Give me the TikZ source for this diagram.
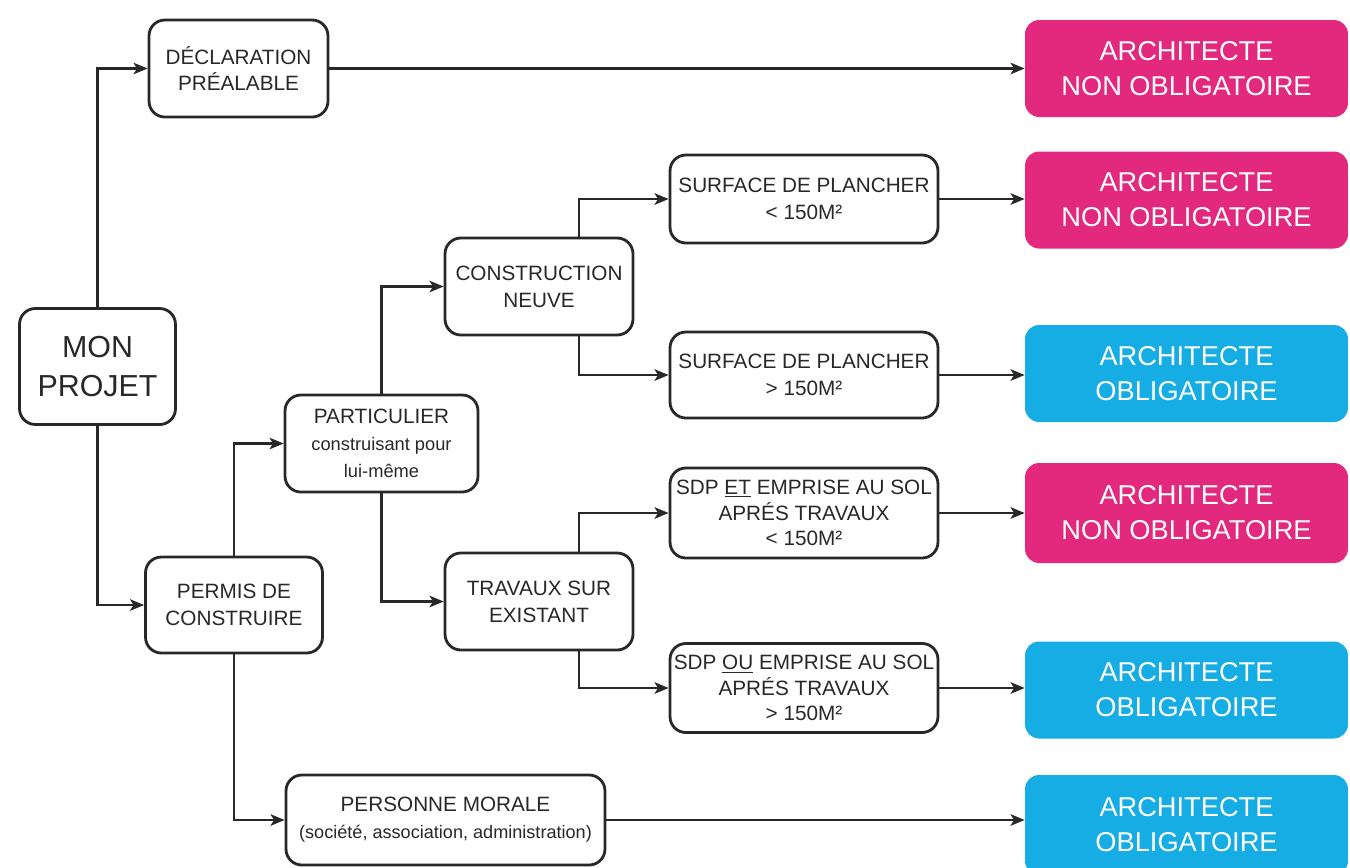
\documentclass[tikz,border=0pt]{standalone}
\usepackage{fontspec}
\setmainfont{Liberation Sans}
\usetikzlibrary{positioning}
\usetikzlibrary{arrows.meta}

\definecolor{rose}{RGB}{226,41,126}
\definecolor{bleu}{RGB}{22,172,228}
\definecolor{trait}{RGB}{40,40,40}

\tikzset{
  boite/.style={draw=trait, ultra thick, rounded corners=9pt, fill=white, align=center,
    inner sep=0pt, text=trait, font=\fontsize{11.8}{15.3}\selectfont},
  archi/.style={rounded corners=8pt, align=center, inner sep=0pt, text=white,
    minimum width=6.46cm, minimum height=1.94cm, font=\fontsize{15.5}{19.8}\selectfont},
  fleche/.style={-{Stealth[length=8pt,width=6.5pt,inset=2pt]}, draw=trait, ultra thick},
}

\begin{document}
\begin{tikzpicture}[x=0.02cm, y=-0.02cm]
\useasboundingbox (0,0) rectangle (1350,867);

\node[boite, minimum width=3.12cm, minimum height=2.32cm, font=\fontsize{17.3}{22.7}\selectfont] (projet) at (97.5,366.5) {MON\\PROJET};
\node[boite, minimum width=3.58cm, minimum height=1.94cm] (decl) at (238.5,68.5) {DÉCLARATION\\PRÉALABLE};
\node[boite, minimum width=3.54cm, minimum height=1.92cm] (permis) at (234,605) {PERMIS DE\\CONSTRUIRE};
\node[boite, minimum width=3.86cm, minimum height=1.94cm] (partic) at (381.5,443.5) {PARTICULIER\\{\fontsize{10.4}{11.5}\selectfont construisant pour}\\{\fontsize{10.4}{11.5}\selectfont lui-même}};
\node[boite, minimum width=6.38cm, minimum height=1.80cm] (morale) at (445.5,820) {PERSONNE MORALE\\{\fontsize{10.3}{13}\selectfont (société, association, administration)}};
\node[boite, minimum width=3.76cm, minimum height=1.94cm] (constr) at (539,286.5) {CONSTRUCTION\\NEUVE};
\node[boite, minimum width=3.76cm, minimum height=1.94cm] (travaux) at (539,601.5) {TRAVAUX SUR\\EXISTANT};
\node[boite, minimum width=5.36cm, minimum height=1.76cm] (surf1) at (804,199) {SURFACE DE PLANCHER\\< 150M²};
\node[boite, minimum width=5.36cm, minimum height=1.72cm] (surf2) at (804,375) {SURFACE DE PLANCHER\\> 150M²};
\node[boite, minimum width=5.36cm, minimum height=1.80cm, font=\fontsize{11.8}{14.7}\selectfont] (sdpet) at (804,513) {SDP \underline{ET} EMPRISE AU SOL\\APRÉS TRAVAUX\\< 150M²};
\node[boite, minimum width=5.36cm, minimum height=1.78cm, font=\fontsize{11.8}{14.7}\selectfont] (sdpou) at (804,688) {SDP \underline{OU} EMPRISE AU SOL\\APRÉS TRAVAUX\\> 150M²};

\node[archi, fill=rose] (res1) at (1186.5,68.5) {ARCHITECTE\\NON OBLIGATOIRE};
\node[archi, fill=rose] (res2) at (1186.5,200) {ARCHITECTE\\NON OBLIGATOIRE};
\node[archi, fill=bleu] (res3) at (1186.5,373.5) {ARCHITECTE\\OBLIGATOIRE};
\node[archi, fill=rose, minimum height=2cm] (res4) at (1186.5,513) {ARCHITECTE\\NON OBLIGATOIRE};
\node[archi, fill=bleu] (res5) at (1186.5,690) {ARCHITECTE\\OBLIGATOIRE};
\node[archi, fill=bleu, minimum height=2cm] (res6) at (1186.5,825) {ARCHITECTE\\OBLIGATOIRE};

\coordinate (branche) at (579,0);

\draw[fleche] (projet.north) |- (decl.west);
\draw[fleche] (projet.south) |- (permis.west);
\draw[fleche] (permis.north) |- (partic.west);
\draw[fleche] (permis.south) |- (morale.west);
\draw[fleche] (partic.north) |- (constr.west);
\draw[fleche] (partic.south) |- (travaux.west);
\draw[fleche] (constr.north -| branche) |- (surf1.west);
\draw[fleche] (constr.south -| branche) |- (surf2.west);
\draw[fleche] (travaux.north -| branche) |- (sdpet.west);
\draw[fleche] (travaux.south -| branche) |- (sdpou.west);

\draw[fleche] (decl.east) -- (decl.east -| res1.west);
\draw[fleche] (surf1.east) -- (surf1.east -| res2.west);
\draw[fleche] (surf2.east) -- (surf2.east -| res3.west);
\draw[fleche] (sdpet.east) -- (sdpet.east -| res4.west);
\draw[fleche] (sdpou.east) -- (sdpou.east -| res5.west);
\draw[fleche] (morale.east) -- (morale.east -| res6.west);
\end{tikzpicture}
\end{document}
